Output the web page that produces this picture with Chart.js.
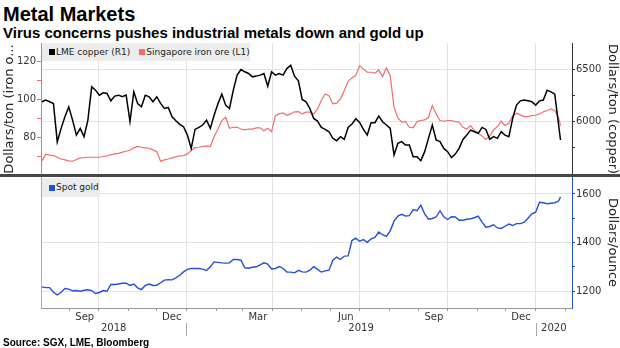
<!DOCTYPE html>
<html><head><meta charset="utf-8">
<script src="https://cdn.jsdelivr.net/npm/chart.js@4.4.1/dist/chart.umd.min.js"></script>
<style>
html,body{margin:0;padding:0;background:#fff;}
#wrap{position:relative;width:620px;height:348px;overflow:hidden;}
.t{position:absolute;white-space:nowrap;color:#000;}
#title{left:3px;top:4px;font:bold 20px/20px "Liberation Sans",Arial,sans-serif;}
#sub{left:3px;top:25px;font:bold 15px/15px "Liberation Sans",Arial,sans-serif;}
#src{left:3px;top:338px;font:bold 10px/10px "Liberation Sans",Arial,sans-serif;}
canvas{position:absolute;left:0;}
#c1{top:38px;}
#c2{top:176px;}
#sep{position:absolute;left:0;top:174px;width:620px;height:3px;background:#474747;}
.legend{position:absolute;background:#ececec;display:flex;align-items:center;font:9px/9px "DejaVu Sans",sans-serif;color:#222;box-sizing:border-box;padding-left:7px;white-space:nowrap;}
.sq{display:inline-block;width:6px;height:6px;margin-right:1px;}
</style></head>
<body><div id="wrap">
<div id="title" class="t">Metal Markets</div>
<div id="sub" class="t">Virus concerns pushes industrial metals down and gold up</div>
<canvas id="c1" width="620" height="140"></canvas>
<canvas id="c2" width="620" height="172"></canvas>
<div id="sep"></div>
<div id="lg1" class="legend" style="left:42px;top:43px;width:208px;height:18px;"></div>
<div id="lg2" class="legend" style="left:42px;top:178px;width:58px;height:19px;"></div>
<div id="src" class="t">Source: SGX, LME, Bloomberg</div>
</div>
<script>
// ---------------- data ----------------
const dates = [
'2018-08-03','2018-08-07','2018-08-11','2018-08-15','2018-08-19','2018-08-23','2018-08-27','2018-08-31',
'2018-09-04','2018-09-08','2018-09-12','2018-09-16','2018-09-20','2018-09-24','2018-09-28',
'2018-10-02','2018-10-06','2018-10-10','2018-10-14','2018-10-18','2018-10-22','2018-10-26','2018-10-30',
'2018-11-03','2018-11-07','2018-11-11','2018-11-15','2018-11-19','2018-11-23','2018-11-27',
'2018-12-01','2018-12-05','2018-12-09','2018-12-13','2018-12-17','2018-12-21','2018-12-25','2018-12-29',
'2019-01-02','2019-01-06','2019-01-10','2019-01-14','2019-01-18','2019-01-22','2019-01-26','2019-01-30',
'2019-02-03','2019-02-07','2019-02-11','2019-02-15','2019-02-19','2019-02-23','2019-02-27',
'2019-03-03','2019-03-07','2019-03-11','2019-03-15','2019-03-19','2019-03-23','2019-03-27','2019-03-31',
'2019-04-04','2019-04-08','2019-04-12','2019-04-16','2019-04-20','2019-04-24','2019-04-28',
'2019-05-02','2019-05-06','2019-05-10','2019-05-14','2019-05-18','2019-05-22','2019-05-26','2019-05-30',
'2019-06-03','2019-06-07','2019-06-11','2019-06-15','2019-06-19','2019-06-23','2019-06-27',
'2019-07-01','2019-07-05','2019-07-09','2019-07-13','2019-07-17','2019-07-21','2019-07-25','2019-07-29',
'2019-08-02','2019-08-06','2019-08-10','2019-08-14','2019-08-18','2019-08-22','2019-08-26','2019-08-30',
'2019-09-03','2019-09-07','2019-09-11','2019-09-15','2019-09-19','2019-09-23','2019-09-27',
'2019-10-01','2019-10-05','2019-10-09','2019-10-13','2019-10-17','2019-10-21','2019-10-25','2019-10-29',
'2019-11-02','2019-11-06','2019-11-10','2019-11-14','2019-11-18','2019-11-22','2019-11-26','2019-11-30',
'2019-12-04','2019-12-08','2019-12-12','2019-12-16','2019-12-20','2019-12-24','2019-12-28',
'2020-01-01','2020-01-05','2020-01-09','2020-01-13','2020-01-17','2020-01-21','2020-01-25','2020-01-27'
];
const copper = [
6189,6205,6189,6173,5806,5935,6046,6141,6014,5871,
5935,5856,6014,6332,6300,6252,6275,6268,6198,6243,
6252,6237,6252,6000,6284,6173,6141,6252,6237,6189,
6237,6173,6125,6135,6046,6008,5973,5951,5871,5744,
5925,5944,5967,6014,5935,6062,6173,6262,6157,6125,
6300,6443,6497,6475,6459,6427,6434,6443,6459,6338,
6475,6443,6459,6443,6506,6538,6433,6389,6211,6189,
6125,6030,6005,5944,5925,5903,5840,5817,5856,5830,
5944,5976,6027,5992,5925,5871,5989,5989,6052,5998,
5967,5935,5681,5792,5808,5776,5776,5665,5665,5627,
5713,5840,5967,5824,5808,5744,5713,5656,5690,5744,
5830,5871,5919,5903,5887,5944,5925,5830,5856,5840,
5903,5871,5856,6030,6157,6198,6205,6198,6189,6157,
6198,6205,6300,6284,6262,5967,5824
];
const ironOre = [
67.5,71.0,70.5,70.3,69.4,68.5,68.0,67.5,67.3,68.2,
69.1,69.2,69.4,69.4,69.4,69.4,69.8,70.1,70.8,71.2,
71.5,72.1,72.6,73.1,74.4,75.2,74.7,74.4,74.2,73.3,
72.4,67.3,68.0,68.5,69.1,69.6,70.1,70.3,71.2,73.0,
74.5,74.7,75.1,75.4,75.1,80.4,84.4,88.9,90.6,84.8,
85.3,85.3,84.4,83.9,84.4,84.3,85.0,85.0,83.5,84.8,
83.0,91.5,92.4,92.9,91.7,92.4,93.5,93.6,92.4,93.3,
93.3,92.4,95.0,99.5,103.0,102.1,97.7,98.1,100.4,104.8,
109.7,111.5,112.7,118.0,116.3,114.5,114.5,114.0,115.7,112.2,
116.8,112.7,95.9,90.3,88.0,88.3,85.3,85.0,88.3,88.9,
89.2,90.6,96.8,92.4,88.9,88.5,88.9,88.9,88.3,88.0,
85.3,84.4,86.2,83.6,82.1,80.6,78.8,80.6,83.9,85.7,
88.5,86.2,87.4,91.5,92.8,91.9,91.0,91.0,91.5,91.7,
92.4,93.5,94.2,95.0,94.2,90.3,86.2
];
const gold = [
1217,1214,1214,1195,1184,1195,1210,1208,1201,1202,
1199,1203,1205,1202,1190,1194,1202,1199,1227,1227,
1229,1232,1232,1223,1229,1213,1206,1223,1229,1223,
1224,1234,1245,1247,1246,1254,1265,1279,1289,1293,
1293,1293,1290,1285,1300,1320,1318,1316,1315,1316,
1330,1330,1327,1296,1294,1298,1300,1308,1316,1311,
1291,1293,1301,1294,1278,1278,1275,1285,1279,1278,
1286,1300,1289,1278,1283,1286,1327,1340,1330,1344,
1345,1408,1418,1405,1412,1401,1415,1421,1443,1432,
1425,1448,1488,1509,1516,1509,1511,1536,1531,1554,
1518,1496,1499,1505,1531,1506,1495,1506,1505,1492,
1492,1496,1498,1502,1509,1484,1463,1466,1473,1460,
1458,1467,1476,1470,1478,1478,1484,1500,1518,1525,
1566,1564,1560,1562,1564,1571,1588
];
const xStart = '2018-08-02', xEnd = '2020-02-08';
const ironTicks = [70,80,90,100,110,120];
const ironLabels = [80,100,120];
const copperTicks = [5750,6000,6250,6500];
const copperLabels = [6000,6500];
const goldTicks = [1200,1300,1400,1500,1600];
const goldLabels = [1200,1400,1600];
const monthLabelDates = ['2018-09','2018-12','2019-03','2019-06','2019-09','2019-12'];
const monthLabelTexts = ['Sep','Dec','Mar','Jun','Sep','Dec'];
const yearLabels = ['2018','2019','2020'];
const seriesNames = ['LME copper (R1)','Singapore iron ore (L1)','Spot gold'];
const colors = {copper:'#000000', iron:'#f26d6d', gold:'#2450d8'};

// ---------------- helpers ----------------
const DAY = 864e5, BASE = Date.UTC(2019,0,1);
function toDay(s){const p=s.split('-').map(Number);return (Date.UTC(p[0],p[1]-1,p[2]||1)-BASE)/DAY;}
const xs = dates.map(toDay);
const pts = arr => arr.map((v,i)=>({x:xs[i],y:v}));
const xMin = toDay(xStart), xMax = toDay(xEnd);
const monthTicks = [];
for(let y=2018,m=0;y<=2020;){const d=(Date.UTC(y,m,1)-BASE)/DAY; if(d>=xMin&&d<=xMax) monthTicks.push({y,m,d}); m++; if(m>11){m=0;y++;}}
const labelMap = {};
monthLabelDates.forEach((s,i)=>{labelMap[toDay(s)] = monthLabelTexts[i];});
const quarterSet = new Set(monthTicks.filter(t=>t.m%3===0).map(t=>t.d));

Chart.defaults.font.family = '"DejaVu Sans", sans-serif';
Chart.defaults.color = '#333';

const noPad = s=>{s.paddingTop=0;s.paddingBottom=0;s.paddingLeft=0;s.paddingRight=0;};
const GRID = '#e3e3e3';

// ---------------- top chart ----------------
const ch1 = new Chart(document.getElementById('c1'), {
  type:'line',
  data:{datasets:[
    {label:seriesNames[0], data:pts(copper), yAxisID:'yR', borderColor:colors.copper, borderWidth:1.5, pointRadius:0, tension:0},
    {label:seriesNames[1], data:pts(ironOre), yAxisID:'yL', borderColor:colors.iron, borderWidth:1.2, pointRadius:0, tension:0}
  ]},
  options:{
    responsive:false, animation:false, events:[],
    layout:{padding:{top:5,bottom:3,left:0,right:0}},
    plugins:{legend:{display:false},tooltip:{enabled:false}},
    scales:{
      x:{type:'linear',min:xMin,max:xMax,
        afterBuildTicks:s=>{s.ticks=[...quarterSet].map(v=>({value:v}));},
        ticks:{display:false},
        grid:{color:GRID,drawTicks:false},
        border:{display:false},
        afterFit:s=>{s.height=0;noPad(s);}},
      yL:{type:'linear',position:'left',min:60,max:130,
        afterBuildTicks:s=>{s.ticks=ironTicks.map(v=>({value:v}));},
        ticks:{callback:v=>ironLabels.includes(v)?String(v):'',padding:1,color:'#333',font:{size:10}},
        grid:{drawOnChartArea:false,tickLength:4,tickColor:colors.iron},
        border:{color:colors.iron},
        title:{display:true,text:'Dollars/ton (iron o...',font:{size:13},color:'#222',padding:{top:2,bottom:0}},
        afterFit:s=>{s.width=41;noPad(s);}},
      yR:{type:'linear',position:'right',min:5490,max:6750,
        afterBuildTicks:s=>{s.ticks=copperTicks.map(v=>({value:v}));},
        ticks:{callback:v=>copperLabels.includes(v)?String(v):'',padding:1,color:'#333',font:{size:10}},
        grid:{color:c=>(c.tick&&copperLabels.includes(c.tick.value))?GRID:'rgba(0,0,0,0)',tickLength:3,tickColor:'#333'},
        border:{color:'#333'},
        title:{display:true,text:'Dollars/ton (copper)',font:{size:13},color:'#222',padding:{top:0,bottom:0}},
        afterFit:s=>{s.width=48;noPad(s);}}
    }
  }
});

// ---------------- bottom chart ----------------
const yearPlugin = {
  id:'yearRow',
  afterDraw(chart){
    const sx = chart.scales.x, ctx = chart.ctx;
    const top = sx.top;
    ctx.save();
    const bounds = [xMin];
    for(let y=2019;y<=2020;y++){const d=(Date.UTC(y,0,1)-BASE)/DAY; if(d>xMin&&d<xMax) bounds.push(d);}
    bounds.push(xMax);
    ctx.strokeStyle='#aaa'; ctx.lineWidth=1;
    for(let i=1;i<bounds.length-1;i++){
      const px=Math.round(sx.getPixelForValue(bounds[i]))+0.5;
      ctx.beginPath(); ctx.moveTo(px,top+15); ctx.lineTo(px,top+28); ctx.stroke();
    }
    ctx.fillStyle='#333'; ctx.font='10px "DejaVu Sans", sans-serif';
    ctx.textAlign='center'; ctx.textBaseline='middle';
    for(let i=0;i<bounds.length-1;i++){
      const c=(sx.getPixelForValue(bounds[i])+sx.getPixelForValue(bounds[i+1]))/2;
      ctx.fillText(yearLabels[i], c, top+20.5);
    }
    ctx.restore();
  }
};

const ch2 = new Chart(document.getElementById('c2'), {
  type:'line',
  data:{datasets:[
    {label:seriesNames[2], data:pts(gold), yAxisID:'yG', borderColor:colors.gold, borderWidth:1.4, pointRadius:0, tension:0}
  ]},
  options:{
    responsive:false, animation:false, events:[],
    layout:{padding:{top:1,bottom:0,left:0,right:0}},
    plugins:{legend:{display:false},tooltip:{enabled:false}},
    scales:{
      x:{type:'linear',position:'bottom',min:xMin,max:xMax,
        afterBuildTicks:s=>{s.ticks=monthTicks.map(t=>({value:t.d}));},
        ticks:{autoSkip:false,maxRotation:0,minRotation:0,labelOffset:15,padding:0,color:'#333',font:{size:10},
          callback:v=>labelMap[v]||''},
        grid:{color:c=>(c.tick&&quarterSet.has(c.tick.value))?GRID:'rgba(0,0,0,0)',tickColor:'#999',tickLength:3},
        border:{color:'#999'},
        afterFit:s=>{s.height=40;noPad(s);}},
      yD:{type:'linear',position:'left',display:true,
        ticks:{display:false},grid:{display:false},border:{color:'#aaa'},
        afterFit:s=>{s.width=41;noPad(s);}},
      yG:{type:'linear',position:'right',min:1130,max:1670,
        afterBuildTicks:s=>{s.ticks=goldTicks.map(v=>({value:v}));},
        ticks:{callback:v=>goldLabels.includes(v)?String(v):'',padding:1,color:'#333',font:{size:10}},
        grid:{color:c=>(c.tick&&goldLabels.includes(c.tick.value))?GRID:'rgba(0,0,0,0)',tickLength:3,tickColor:colors.gold},
        border:{color:colors.gold},
        title:{display:true,text:'Dollars/ounce',font:{size:13},color:'#222',padding:{top:0,bottom:0}},
        afterFit:s=>{s.width=48;noPad(s);}}
    }
  },
  plugins:[yearPlugin]
});

// ---------------- legends ----------------
function buildLegend(el, chart){
  chart.data.datasets.forEach((ds,i)=>{
    const sq=document.createElement('span'); sq.className='sq'; sq.style.background=ds.borderColor;
    if(i>0) sq.style.marginLeft='9px';
    const tx=document.createElement('span'); tx.textContent=ds.label;
    el.appendChild(sq); el.appendChild(tx);
  });
}
buildLegend(document.getElementById('lg1'), ch1);
buildLegend(document.getElementById('lg2'), ch2);
</script>
</body></html>
